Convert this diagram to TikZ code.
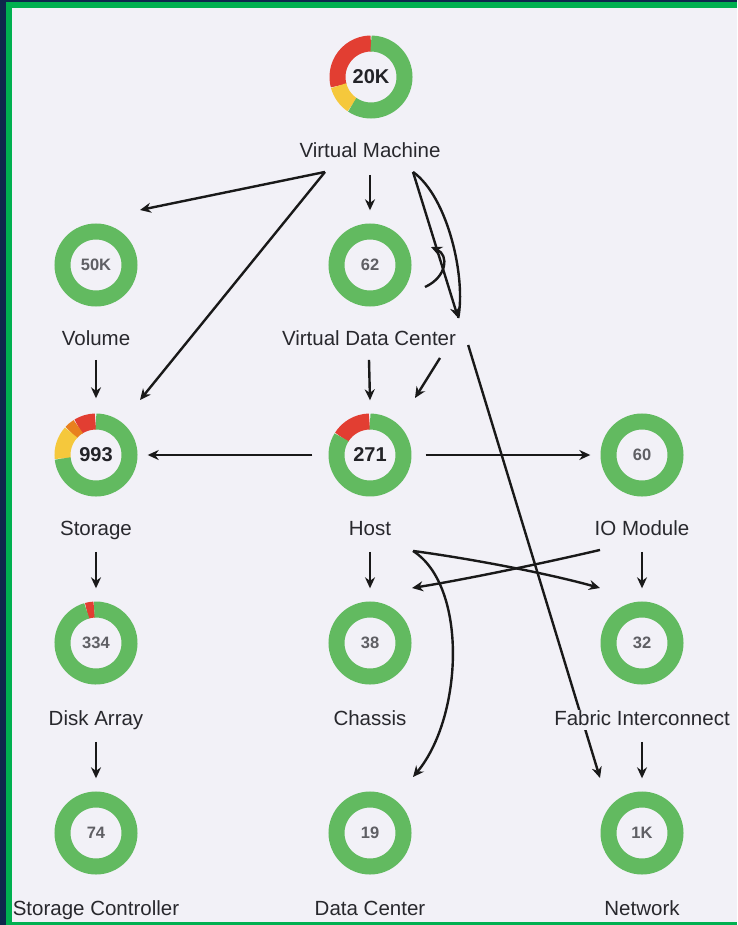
\documentclass[tikz,border=0pt]{standalone}
\usepackage{fontspec}
\setmainfont{Liberation Sans}
\usetikzlibrary{arrows.meta,calc}
\definecolor{navy}{RGB}{14,40,76}
\definecolor{framegreen}{RGB}{0,176,80}
\definecolor{bgc}{RGB}{242,241,247}
\definecolor{ringgreen}{RGB}{98,186,96}
\definecolor{ringred}{RGB}{226,62,50}
\definecolor{ringyellow}{RGB}{245,200,60}
\definecolor{ringorange}{RGB}{232,128,30}
\definecolor{txt}{RGB}{40,40,45}
\definecolor{numdark}{RGB}{35,35,40}
\definecolor{numlight}{RGB}{95,95,100}
\pgfdeclarelayer{back}
\pgfdeclarelayer{edges}
\pgfsetlayers{back,edges,main}
\newcommand\ringfull[1]{\draw[seg,ringgreen] (#1.center) circle[radius=33.5pt];}
\newcommand\ringseg[4]{\draw[seg,#4] ($(#1.center)+(#2:33.5pt)$) arc[start angle=#2,end angle=#3,radius=33.5pt];}
\begin{document}
\begin{tikzpicture}[x=1pt,y=1pt,
  donut/.style={circle, minimum size=83pt, inner sep=0pt},
  lbl/.style={inner sep=0pt, text height=15pt, text depth=4.5pt, font=\fontsize{20.5}{24}\selectfont, text=txt, fill=bgc},
  bignum/.style={font=\fontsize{20}{23}\selectfont\bfseries, text=numdark},
  smallnum/.style={font=\fontsize{16.5}{20}\selectfont\bfseries, text=numlight},
  arr/.style={line width=2.4pt, -{Stealth[length=11pt,width=10pt]}, black!90},
  conn/.style={line width=2.4pt, black!90},
  seg/.style={line width=16pt}]

\begin{pgfonlayer}{back}
  \fill[navy] (0,0) rectangle (737,-925);
  \fill[framegreen] (6,-2) rectangle (737,-925);
  \fill[bgc] (12,-8) rectangle (737,-922);
\end{pgfonlayer}
\useasboundingbox (0,0) rectangle (737,-925);

% donuts
\node[donut,bignum]   (d-vm)   at (371,-77)  {20K};
\node[donut,smallnum] (d-vol)  at (96,-265)  {50K};
\node[donut,smallnum] (d-vdc)  at (370,-265) {62};
\node[donut,bignum]   (d-sto)  at (96,-455)  {993};
\node[donut,bignum]   (d-host) at (370,-455) {271};
\node[donut,smallnum] (d-io)   at (642,-455) {60};
\node[donut,smallnum] (d-disk) at (96,-643)  {334};
\node[donut,smallnum] (d-cha)  at (370,-643) {38};
\node[donut,smallnum] (d-fab)  at (642,-643) {32};
\node[donut,smallnum] (d-sc)   at (96,-833)  {74};
\node[donut,smallnum] (d-dc)   at (370,-833) {19};
\node[donut,smallnum] (d-net)  at (642,-833) {1K};

% rings
\ringseg{d-vm}{90}{195}{ringred}
\ringseg{d-vm}{195}{236}{ringyellow}
\ringseg{d-vm}{236}{450}{ringgreen}
\ringfull{d-vol}
\ringfull{d-vdc}
\ringseg{d-sto}{91}{122}{ringred}
\ringseg{d-sto}{122}{138}{ringorange}
\ringseg{d-sto}{138}{186}{ringyellow}
\ringseg{d-sto}{186}{450}{ringgreen}
\ringseg{d-host}{91}{148}{ringred}
\ringseg{d-host}{148}{450}{ringgreen}
\ringfull{d-io}
\ringseg{d-disk}{93}{106}{ringred}
\ringseg{d-disk}{106}{453}{ringgreen}
\ringfull{d-cha}
\ringfull{d-fab}
\ringfull{d-sc}
\ringfull{d-dc}
\ringfull{d-net}

% labels
\node[lbl] (l-vm)   at (370,-152) {Virtual Machine};
\node[lbl] (l-vol)  at (96,-340)  {Volume};
\node[lbl] (l-vdc)  at (369,-340) {Virtual Data Center};
\node[lbl] (l-sto)  at (96,-530)  {Storage};
\node[lbl] (l-host) at (370,-530) {Host};
\node[lbl] (l-io)   at (642,-530) {IO Module};
\node[lbl] (l-disk) at (96,-720)  {Disk Array};
\node[lbl] (l-cha)  at (370,-720) {Chassis};
\node[lbl] (l-fab)  at (642,-720) {Fabric Interconnect};
\node[lbl] (l-sc)   at (96,-910)  {Storage Controller};
\node[lbl] (l-dc)   at (370,-910) {Data Center};
\node[lbl] (l-net)  at (642,-910) {Network};

\begin{pgfonlayer}{edges}
  % from Virtual Machine
  \draw[arr] ([xshift=-45pt,yshift=-10pt]l-vm.south) -- ([xshift=44pt,yshift=55pt]d-vol.center);
  \draw[arr] ([xshift=-45pt,yshift=-10pt]l-vm.south) -- ([xshift=44pt,yshift=55pt]d-sto.center);
  \draw[arr] ([yshift=-13pt]l-vm.south) -- ([yshift=13pt]d-vdc.north);
  \draw[arr] ([xshift=43pt,yshift=-10pt]l-vm.south) -- ([xshift=2pt,yshift=12pt]l-vdc.north east);
  \draw[conn] ([xshift=43pt,yshift=-10pt]l-vm.south) .. controls +(35,-25) and +(8,40) .. ([xshift=2pt,yshift=12pt]l-vdc.north east);
  \draw[arr] ([xshift=55pt,yshift=-22pt]d-vdc.center) .. controls +(22,10) and +(18,-8) .. ([xshift=61pt,yshift=18pt]d-vdc.center);
  % from Virtual Data Center
  \draw[arr] ([yshift=-10pt]l-vdc.south) -- ([yshift=13pt]d-host.north);
  \draw[arr] ([xshift=71pt,yshift=-8pt]l-vdc.south) -- ([xshift=45pt,yshift=57pt]d-host.center);
  \draw[arr] ([xshift=12pt,yshift=-5pt]l-vdc.east) -- ([xshift=-42pt,yshift=55pt]d-net.center);
  % Volume / Storage column
  \draw[arr] ([yshift=-10pt]l-vol.south) -- ([yshift=15pt]d-sto.north);
  \draw[arr] ([yshift=-12pt]l-sto.south) -- ([yshift=13pt]d-disk.north);
  \draw[arr] ([yshift=-12pt]l-disk.south) -- ([yshift=13pt]d-sc.north);
  % from Host
  \draw[arr] ([xshift=-16pt]d-host.west) -- ([xshift=10pt]d-sto.east);
  \draw[arr] ([xshift=14pt]d-host.east) -- ([xshift=-10pt]d-io.west);
  \draw[arr] ([yshift=-12pt]l-host.south) -- ([yshift=13pt]d-cha.north);
  \draw[arr] ([xshift=43pt,yshift=-11pt]l-host.south) .. controls +(60,-8) and +(-50,14) .. ([xshift=-42pt,yshift=55pt]d-fab.center);
  \draw[arr] ([xshift=43pt,yshift=-11pt]l-host.south) .. controls +(55,-35) and +(50,60) .. ([xshift=43pt,yshift=56pt]d-dc.center);
  % from IO Module
  \draw[arr] ([xshift=-42pt,yshift=-10pt]l-io.south) .. controls +(-60,-14) and +(50,8) .. ([xshift=42pt,yshift=55pt]d-cha.center);
  \draw[arr] ([yshift=-12pt]l-io.south) -- ([yshift=13pt]d-fab.north);
  % Fabric Interconnect
  \draw[arr] ([yshift=-12pt]l-fab.south) -- ([yshift=13pt]d-net.north);
\end{pgfonlayer}
\end{tikzpicture}
\end{document}
